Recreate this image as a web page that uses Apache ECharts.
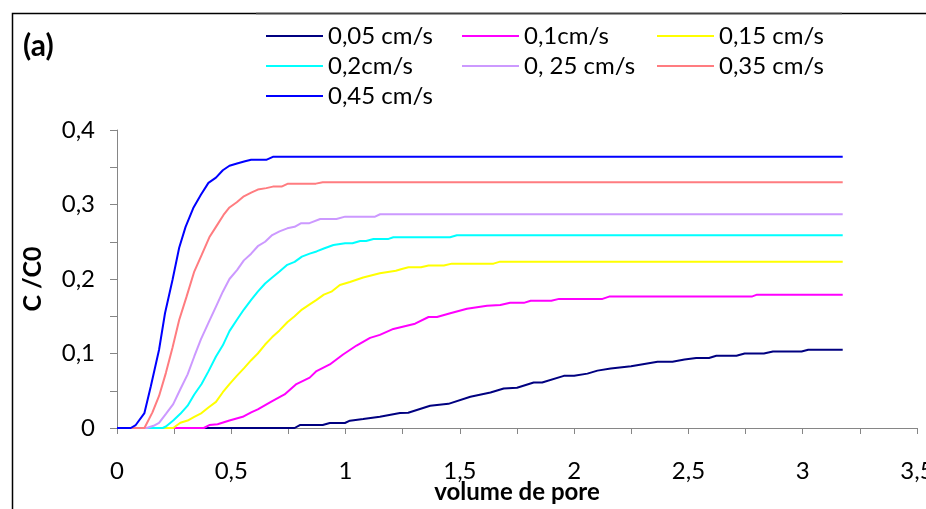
<!DOCTYPE html>
<html>
<head>
<meta charset="utf-8">
<script src="https://cdn.jsdelivr.net/npm/echarts@6/dist/echarts.min.js"></script>
<style>
  html, body { margin: 0; padding: 0; background: #fff; }
  #chart { width: 926px; height: 509px; }
</style>
</head>
<body>
<div id="chart"></div>
<script>
// Breakthrough curves C/C0 versus pore volume, one per flow velocity.
// Each series is a list of [pore volume, C/C0] pairs.
const v005 = [[0,0],[0.777,0],[0.80,0.004],[0.90,0.004],[0.931,0.0067],[0.997,0.0067],[1.019,0.0098],[1.077,0.012],[1.15,0.015],[1.238,0.02],[1.274,0.0205],[1.37,0.0298],[1.45,0.0324],[1.546,0.042],[1.634,0.0476],[1.692,0.053],[1.75,0.054],[1.823,0.061],[1.86,0.061],[1.955,0.07],[2.0,0.07],[2.058,0.073],[2.102,0.077],[2.16,0.08],[2.249,0.083],[2.307,0.086],[2.365,0.089],[2.43,0.089],[2.483,0.092],[2.534,0.094],[2.59,0.094],[2.622,0.097],[2.71,0.097],[2.746,0.1],[2.83,0.1],[2.87,0.1027],[2.995,0.1027],[3.024,0.105],[3.175,0.105]];
const v01 = [[0,0],[0.38,0],[0.404,0.004],[0.44,0.005],[0.492,0.01],[0.55,0.015],[0.587,0.021],[0.616,0.025],[0.679,0.036],[0.733,0.045],[0.785,0.059],[0.843,0.0676],[0.873,0.0764],[0.931,0.0853],[0.989,0.0987],[1.048,0.1107],[1.107,0.121],[1.15,0.125],[1.209,0.133],[1.304,0.14],[1.363,0.149],[1.4,0.149],[1.458,0.154],[1.531,0.16],[1.619,0.164],[1.677,0.165],[1.72,0.168],[1.78,0.168],[1.81,0.1707],[1.9,0.1707],[1.934,0.1733],[2.124,0.1733],[2.153,0.1764],[2.777,0.1764],[2.80,0.179],[3.175,0.179]];
const v015 = [[0,0],[0.246,0],[0.277,0.007],[0.309,0.01],[0.338,0.015],[0.37,0.02],[0.40,0.0276],[0.433,0.035],[0.463,0.048],[0.492,0.059],[0.524,0.07],[0.555,0.08],[0.587,0.091],[0.616,0.1],[0.648,0.112],[0.679,0.122],[0.711,0.131],[0.745,0.142],[0.777,0.15],[0.809,0.159],[0.843,0.166],[0.873,0.172],[0.905,0.179],[0.938,0.183],[0.975,0.192],[1.019,0.196],[1.077,0.202],[1.15,0.2076],[1.22,0.211],[1.246,0.2135],[1.275,0.2158],[1.33,0.2158],[1.363,0.218],[1.43,0.218],[1.465,0.2206],[1.647,0.2206],[1.676,0.2233],[3.175,0.2233]];
const v02 = [[0,0],[0.2,0],[0.214,0.002],[0.246,0.01],[0.277,0.019],[0.309,0.03],[0.338,0.045],[0.37,0.059],[0.40,0.076],[0.433,0.096],[0.463,0.111],[0.492,0.13],[0.524,0.145],[0.555,0.159],[0.587,0.172],[0.616,0.183],[0.648,0.194],[0.679,0.202],[0.711,0.21],[0.745,0.219],[0.777,0.223],[0.809,0.23],[0.843,0.234],[0.873,0.237],[0.905,0.241],[0.947,0.2457],[0.998,0.248],[1.03,0.248],[1.064,0.251],[1.09,0.251],[1.122,0.2538],[1.188,0.2538],[1.209,0.256],[1.457,0.256],[1.487,0.2587],[3.175,0.2587]];
const v025 = [[0,0],[0.13,0],[0.16,0.003],[0.184,0.007],[0.214,0.019],[0.246,0.032],[0.277,0.052],[0.309,0.072],[0.338,0.096],[0.367,0.119],[0.40,0.141],[0.433,0.163],[0.463,0.183],[0.492,0.2],[0.525,0.212],[0.555,0.225],[0.587,0.234],[0.616,0.244],[0.648,0.25],[0.679,0.259],[0.711,0.264],[0.745,0.268],[0.777,0.27],[0.806,0.275],[0.842,0.275],[0.889,0.2806],[0.96,0.2806],[0.998,0.2837],[1.129,0.2837],[1.151,0.2869],[3.175,0.2869]];
const v035 = [[0,0],[0.12,0],[0.155,0.021],[0.184,0.043],[0.214,0.074],[0.243,0.108],[0.272,0.145],[0.304,0.176],[0.338,0.21],[0.37,0.232],[0.404,0.256],[0.433,0.27],[0.466,0.286],[0.492,0.296],[0.524,0.303],[0.555,0.311],[0.587,0.316],[0.616,0.32],[0.653,0.322],[0.682,0.324],[0.72,0.324],[0.748,0.328],[0.87,0.328],[0.90,0.330],[3.175,0.330]];
const v045 = [[0,0],[0.06,0],[0.082,0.004],[0.12,0.02],[0.148,0.056],[0.184,0.105],[0.21,0.154],[0.243,0.199],[0.272,0.242],[0.30,0.27],[0.335,0.296],[0.367,0.313],[0.40,0.329],[0.433,0.336],[0.463,0.346],[0.492,0.352],[0.525,0.355],[0.56,0.358],[0.587,0.36],[0.653,0.36],[0.682,0.364],[3.175,0.364]];

const seriesNames = ['0,05 cm/s', '0,1cm/s', '0,15 cm/s', '0,2cm/s', '0, 25 cm/s', '0,35 cm/s', '0,45 cm/s'];
const seriesData = [v005, v01, v015, v02, v025, v035, v045];
const seriesColors = ['#000080', '#FF00FF', '#FFFF00', '#00FFFF', '#CC99FF', '#FF7C80', '#0000FF'];

// Legend columns as laid out above the plot
const legendColumns = [
  ['0,05 cm/s', '0,2cm/s', '0,45 cm/s'],
  ['0,1cm/s', '0, 25 cm/s'],
  ['0,15 cm/s', '0,35 cm/s']
];
const legendLeft = [266, 462, 657];

const FONT = 'Lato, "Open Sans", sans-serif';
const AXIS_GREY = '#868686';

const chart = echarts.init(document.getElementById('chart'), null, { renderer: 'canvas' });

const fmt = v => String(v).replace('.', ',');

const option = {
  backgroundColor: '#ffffff',
  animation: false,
  textStyle: { fontFamily: FONT },
  grid: { left: 117, right: 9, top: 130, bottom: 81, outerBoundsMode: 'none', containLabel: false },
  legend: legendColumns.map((col, i) => ({
    data: col,
    orient: 'vertical',
    left: legendLeft[i],
    top: 24,
    padding: 0,
    itemGap: 6,
    itemWidth: 57,
    itemHeight: 2,
    icon: 'rect',
    selectedMode: false,
    textStyle: { fontFamily: FONT, fontSize: 24, color: '#000', lineHeight: 24 }
  })),
  xAxis: {
    type: 'value',
    min: 0,
    max: 3.5,
    interval: 0.25,
    name: 'volume de pore',
    nameLocation: 'middle',
    nameGap: 52,
    nameMoveOverlap: false,
    nameTextStyle: { fontFamily: FONT, fontSize: 24, fontWeight: 'bold', color: '#000' },
    axisLine: { show: true, onZero: false, lineStyle: { color: AXIS_GREY, width: 1 } },
    axisTick: { show: true, length: 6, lineStyle: { color: AXIS_GREY } },
    splitLine: { show: false },
    axisLabel: {
      margin: 31,
      fontFamily: FONT,
      fontSize: 24,
      color: '#000',
      showMaxLabel: true,
      hideOverlap: false,
      formatter: v => (Math.round(v * 100) % 50 === 0 ? fmt(v) : '')
    }
  },
  yAxis: {
    type: 'value',
    min: 0,
    max: 0.4,
    interval: 0.05,
    name: 'C /C0',
    nameLocation: 'middle',
    nameGap: 72,
    nameRotate: 90,
    nameMoveOverlap: false,
    nameTextStyle: { fontFamily: FONT, fontSize: 25, fontWeight: 'bold', color: '#000' },
    axisLine: { show: true, lineStyle: { color: AXIS_GREY, width: 1 } },
    axisTick: { show: true, length: 7, lineStyle: { color: AXIS_GREY } },
    splitLine: { show: false },
    axisLabel: {
      margin: 22,
      fontFamily: FONT,
      fontSize: 24,
      color: '#000',
      formatter: v => (Math.round(v * 100) % 10 === 0 ? fmt(Math.round(v * 10) / 10) : '')
    }
  },
  series: seriesNames.map((name, i) => ({
    name: name,
    type: 'line',
    data: seriesData[i],
    symbol: 'none',
    showSymbol: false,
    color: seriesColors[i],
    lineStyle: { color: seriesColors[i], width: 2 },
    itemStyle: { color: seriesColors[i] },
    clip: false
  })),
  graphic: [
    {
      type: 'rect',
      shape: { x: 12.5, y: 13.5, width: 1000, height: 600 },
      style: { fill: 'none', stroke: '#000', lineWidth: 1.5 },
      silent: true
    },
    {
      type: 'line',
      shape: { x1: 256, y1: 13.5, x2: 842, y2: 13.5 },
      style: { stroke: '#404040', lineWidth: 1.5 },
      silent: true
    },
    {
      type: 'text',
      left: 23,
      top: 31,
      style: { text: '(a)', fontFamily: FONT, fontSize: 30, fontWeight: 'bold', fill: '#000' }
    }
  ]
};

chart.setOption(option);
</script>
</body>
</html>
